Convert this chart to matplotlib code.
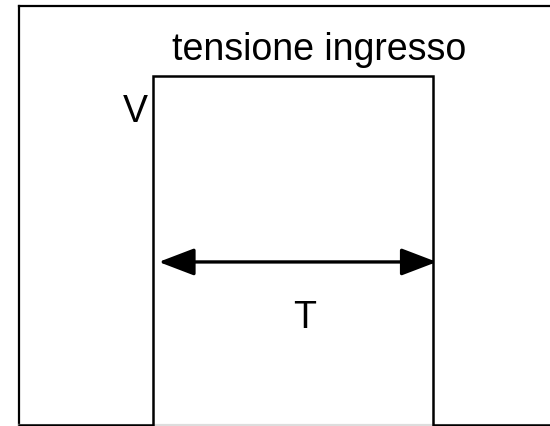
import matplotlib
matplotlib.use("Agg")
import matplotlib.pyplot as plt
from matplotlib.patches import FancyArrowPatch

plt.rcParams['font.family'] = ['Liberation Sans', 'DejaVu Sans']

# input pulse: starts at t0, lasts T, amplitude V
t0 = 1.0
t1 = 3.0
amp = 1.0
x_sig = [0.04, t0, t0, t1, t1, 3.84]
y_sig = [0.0, 0.0, amp, amp, 0.0, 0.0]

title_txt = "tensione ingresso"
v_lbl = "V"
t_lbl = "T"

fig = plt.figure(figsize=(5.5, 4.27), dpi=100)
ax = fig.add_axes([0.0345, 0.0023, 0.9655, 0.9813])

ax.plot(x_sig, y_sig, color='black', lw=1.8, clip_on=False,
        solid_joinstyle='miter', zorder=3)

arr = FancyArrowPatch((t0 + 0.04, 0.467), (t1 + 0.03, 0.467),
                      arrowstyle='<|-|>,head_length=1.1,head_width=0.42',
                      mutation_scale=20, color='black', lw=2.4,
                      shrinkA=0, shrinkB=0)
ax.add_patch(arr)

ax.text(2.186, 1.049, title_txt, fontsize=27, ha='center', va='baseline')
ax.text(0.871, 0.871, v_lbl, fontsize=27, ha='center', va='baseline')
ax.text(2.086, 0.281, t_lbl, fontsize=27, ha='center', va='baseline')

ax.set_xlim(0.04, 3.84)
ax.set_ylim(0, 1.2)
ax.set_xticks([])
ax.set_yticks([])
for s in ['left', 'top']:
    ax.spines[s].set_linewidth(1.6)
ax.spines['right'].set_visible(False)
ax.spines['bottom'].set_color('#dddddd')
ax.spines['bottom'].set_linewidth(1.6)

fig.savefig("out.png", dpi=100)
